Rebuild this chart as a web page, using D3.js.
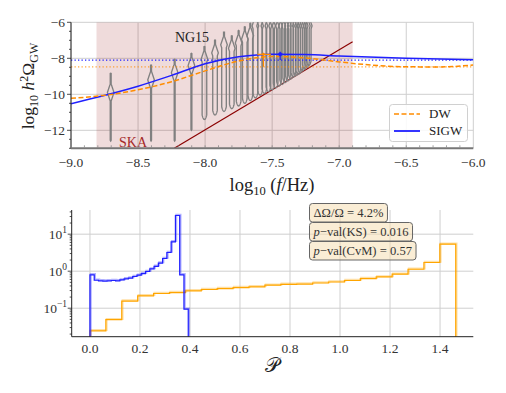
<!DOCTYPE html>
<html>
<head>
<meta charset="utf-8">
<script src="https://cdn.jsdelivr.net/npm/d3@7"></script>
<style>
  body { margin: 0; background: #fff; }
  svg { display: block; font-family: "Liberation Serif", "DejaVu Serif", serif; }
</style>
</head>
<body>
<svg id="chart" width="506" height="393"></svg>
<script>
// ---- top panel: spectra (log10 f in Hz, log10 h^2 Omega_GW) ----
const sigwLogF  = [-9.0, -8.76, -8.5, -8.25, -8.0, -7.75, -7.5, -7.25, -7.0, -6.5, -6.0];
const sigwOmega = [-10.52, -10.08, -9.55, -8.95, -8.3, -7.92, -7.77, -7.79, -7.87, -8.0, -8.08];
const dwLogF    = [-9.0, -8.75, -8.5, -8.25, -8.0, -7.75, -7.5, -7.25, -7.0, -6.75, -6.5, -6.25, -6.0];
const dwOmega   = [-10.22, -10.06, -9.75, -9.3, -8.7, -8.15, -7.9, -7.98, -8.2, -8.38, -8.47, -8.48, -8.37];
const sigwLevel = -8.1;   // dotted reference levels
const dwLevel   = -8.48;

// peak markers: [logf, omega, logf lo, logf hi, omega lo, omega hi]
const dwPeak   = [-7.565, -7.78, -7.61, -7.51, -8.47, -7.69];
const sigwPeak = [-7.44, -7.78, -7.46, -7.42, -8.09, -7.63];

// SKA sensitivity band and curve
const skaBand  = [-8.81, -6.9];
const skaLogF  = [-8.23, -6.9];
const skaOmega = [-13.0, -7.08];

// NG15 free-spectrum violins
const ng15LogF = [-8.704, -8.403, -8.227, -8.102, -8.005, -7.926, -7.859, -7.801, -7.750, -7.704,
                  -7.663, -7.625, -7.590, -7.558, -7.528, -7.500, -7.474, -7.449, -7.425, -7.403,
                  -7.382, -7.361, -7.342, -7.323, -7.306, -7.289, -7.272, -7.257, -7.241, -7.227];
const ng15Low  = [-12.6, -12.6, -12.6, -12.0, -11.4, -11.15, -10.95, -10.8, -10.65, -10.5,
                  -10.35, -10.2, -10.05, -9.95, -9.85, -9.75, -9.65, -9.55, -9.45, -9.35,
                  -9.25, -9.15, -9.05, -8.97, -8.9, -8.8, -8.7, -8.6, -8.5, -8.4];
const ng15High = [-8.83, -8.37, -8.05, -7.72, -7.35, -6.98, -6.55, -6.75, -6.45, -6.25,
                  -6.05, -5.5, -5.5, -5.5, -5.5, -5.5, -5.5, -5.5, -5.5, -5.5,
                  -5.5, -5.5, -5.5, -5.5, -5.5, -5.5, -5.5, -5.5, -5.5, -5.5];
const ng15Mode = [-9.9, -9.2, -8.8, -8.4, -8.05, -7.7, -7.25, -7.45, -7.15, -6.95,
                  -6.75, -6.2, -6.2, -6.2, -6.2, -6.2, -6.2, -6.2, -6.2, -6.2,
                  -6.2, -6.2, -6.2, -6.2, -6.2, -6.2, -6.2, -6.2, -6.2, -6.2];
const ng15Kind = ["spike", "spike", "spike", "spike"].concat(d3.range(26).map(() => "loop"));

const topXTicks = [-9.0, -8.5, -8.0, -7.5, -7.0, -6.5, -6.0];
const topYTicks = [-12, -10, -8, -6];

// ---- bottom panel: histograms of P ----
const sigwHistStart = 0.0, sigwHistWidth = 0.01709;
const sigwHist = [0.80, 0.57, 0.55, 0.54, 0.55, 0.56, 0.55, 0.58, 0.62, 0.65, 0.72, 0.78,
                  0.86, 0.98, 1.15, 1.35, 1.65, 2.2, 3.2, 6.2, 32, 0.8, 0.094];
const dwHistStart = 0.0, dwHistWidth = 0.0636;
const dwHist = [0.0244, 0.049, 0.155, 0.215, 0.25, 0.265, 0.294, 0.32, 0.34, 0.36, 0.377, 0.418,
                0.44, 0.45, 0.48, 0.51, 0.56, 0.63, 0.70, 0.83, 1.13, 1.72, 5.37];
const botXTicks = [0.0, 0.2, 0.4, 0.6, 0.8, 1.0, 1.2, 1.4];
const botYTicks = [0.1, 1, 10];
const statLines = ["dO", "ks", "cvm"];

const BLUE = "#1f1fff", ORANGE = "#ff8c00", HIST_ORANGE = "#ffa500", GRID = "#cfcfcf";

const svg = d3.select("#chart");

// ================= top panel =================
const x1 = d3.scaleLinear().domain([-9, -6]).range([71, 473.3]);
const y1 = d3.scaleLinear().domain([-13, -6]).range([148.3, 22.3]);

svg.append("defs").append("clipPath").attr("id", "clipTop")
  .append("rect").attr("x", x1(-9)).attr("y", y1(-6))
  .attr("width", x1(-6) - x1(-9)).attr("height", y1(-13) - y1(-6));

// grid
const gTop = svg.append("g");
gTop.selectAll(".vg").data(topXTicks).join("line")
  .attr("x1", d => x1(d)).attr("x2", d => x1(d))
  .attr("y1", y1(-6)).attr("y2", y1(-13))
  .attr("stroke", GRID).attr("stroke-width", 1);
gTop.selectAll(".hg").data(topYTicks).join("line")
  .attr("x1", x1(-9)).attr("x2", x1(-6))
  .attr("y1", d => y1(d)).attr("y2", d => y1(d))
  .attr("stroke", GRID).attr("stroke-width", 1);

const plot = svg.append("g").attr("clip-path", "url(#clipTop)");

// SKA band
plot.append("rect")
  .attr("x", x1(skaBand[0])).attr("y", y1(-6))
  .attr("width", x1(skaBand[1]) - x1(skaBand[0]))
  .attr("height", y1(-13) - y1(-6))
  .attr("fill", "#8b0000").attr("fill-opacity", 0.14);

// SKA curve
plot.append("line")
  .attr("x1", x1(skaLogF[0])).attr("y1", y1(skaOmega[0]))
  .attr("x2", x1(skaLogF[1])).attr("y2", y1(skaOmega[1]))
  .attr("stroke", "#8b0000").attr("stroke-width", 1.2);

// violins
function halfWidth(kind, v, lo, mode) {
  const bulb = 3.3 * Math.max(0, 1 - Math.abs(v - mode) / 0.55);
  let tail = 0.45;
  if (kind === "loop" && v < mode) tail = 2.3 * Math.sqrt(Math.min(1, (v - lo) / 0.25));
  else if (kind === "spike") tail = 0.45 * Math.sqrt(Math.min(1, (v - lo) / 0.05));
  return Math.max(tail, bulb);
}
const violins = ng15LogF.map((f, i) => ({ f, lo: ng15Low[i], hi: ng15High[i], mode: ng15Mode[i], kind: ng15Kind[i] }));
plot.append("g").selectAll("path").data(violins).join("path")
  .attr("d", d => {
    const vs = d3.range(d.lo, d.hi + 1e-9, 0.02);
    if (vs[vs.length - 1] < d.hi) vs.push(d.hi);
    const cx = x1(d.f);
    const right = vs.map(v => [cx + halfWidth(d.kind, v, d.lo, d.mode) * (v === d.hi ? 0 : 1), y1(v)]);
    const left = vs.slice().reverse().map(v => [cx - halfWidth(d.kind, v, d.lo, d.mode) * (v === d.hi ? 0 : 1), y1(v)]);
    return d3.line()(right.concat(left)) + "Z";
  })
  .attr("fill", "none").attr("stroke", "#808080").attr("stroke-width", 1.35);

// dotted levels
plot.append("line").attr("x1", x1(-9)).attr("x2", x1(-6))
  .attr("y1", y1(dwLevel)).attr("y2", y1(dwLevel))
  .attr("stroke", ORANGE).attr("stroke-width", 1.3).attr("stroke-dasharray", "1.3,2.2").attr("stroke-opacity", 0.75);
plot.append("line").attr("x1", x1(-9)).attr("x2", x1(-6))
  .attr("y1", y1(sigwLevel)).attr("y2", y1(sigwLevel))
  .attr("stroke", BLUE).attr("stroke-width", 1.3).attr("stroke-dasharray", "1.3,2.2");

// spectra
const line1 = d3.line().x(d => x1(d[0])).y(d => y1(d[1])).curve(d3.curveMonotoneX);
plot.append("path").datum(sigwLogF.map((f, i) => [f, sigwOmega[i]]))
  .attr("d", line1).attr("fill", "none").attr("stroke", BLUE).attr("stroke-width", 1.5);
plot.append("path").datum(dwLogF.map((f, i) => [f, dwOmega[i]]))
  .attr("d", line1).attr("fill", "none").attr("stroke", ORANGE).attr("stroke-width", 1.5)
  .attr("stroke-dasharray", "5,2.5");

// peak markers
function peakMarker(p, color, dot) {
  const g = plot.append("g").attr("stroke", color).attr("stroke-width", 1.2);
  g.append("line").attr("x1", x1(p[2])).attr("x2", x1(p[3])).attr("y1", y1(p[1])).attr("y2", y1(p[1]));
  g.append("line").attr("x1", x1(p[0])).attr("x2", x1(p[0])).attr("y1", y1(p[4])).attr("y2", y1(p[5]));
  g.append("circle").attr("cx", x1(p[0])).attr("cy", y1(p[1])).attr("r", dot).attr("fill", color);
}
peakMarker(dwPeak, ORANGE, 0.8);
peakMarker(sigwPeak, BLUE, 1.4);

// labels inside panel
svg.append("text").attr("x", 192).attr("y", 42).attr("text-anchor", "middle")
  .attr("font-size", 14).attr("fill", "#222").text("NG15");
svg.append("text").attr("x", 133).attr("y", 147).attr("text-anchor", "middle")
  .attr("font-size", 14).attr("fill", "#a52a2a").text("SKA");

// axes
svg.append("line").attr("x1", x1(-9)).attr("x2", x1(-9)).attr("y1", y1(-6)).attr("y2", y1(-13))
  .attr("stroke", "#222").attr("stroke-width", 1);
svg.append("line").attr("x1", x1(-9)).attr("x2", x1(-6)).attr("y1", y1(-13)).attr("y2", y1(-13))
  .attr("stroke", "#777").attr("stroke-width", 2);
svg.append("g").selectAll("line").data(d3.range(-9, -6.001, 0.1)).join("line")
  .attr("x1", d => x1(d)).attr("x2", d => x1(d))
  .attr("y1", y1(-13) - 1).attr("y2", y1(-13) - 3)
  .attr("stroke", "#888").attr("stroke-width", 0.8);
svg.append("g").selectAll("line").data(d3.range(-13, -5.99, 0.5)).join("line")
  .attr("x1", x1(-9)).attr("x2", d => x1(-9) - (Number.isInteger(d) && d % 2 === 0 ? 4 : 2))
  .attr("y1", d => y1(d)).attr("y2", d => y1(d))
  .attr("stroke", "#222").attr("stroke-width", 0.8);

const fmt1 = d3.format(".1f");
svg.append("g").selectAll("text").data(topXTicks).join("text")
  .attr("x", d => x1(d)).attr("y", 167).attr("text-anchor", "middle")
  .attr("font-size", 13.5).attr("fill", "#333").text(d => fmt1(d));
svg.append("g").selectAll("text").data(topYTicks).join("text")
  .attr("x", 65).attr("y", d => y1(d) + 4.5).attr("text-anchor", "end")
  .attr("font-size", 13.5).attr("fill", "#333").text(d => d3.format("d")(d));

// axis titles
const xt = svg.append("text").attr("x", 272).attr("y", 191).attr("text-anchor", "middle")
  .attr("font-size", 18.5).attr("fill", "#222");
xt.append("tspan").text("log");
xt.append("tspan").attr("font-size", 12.5).attr("dy", 4).text("10");
xt.append("tspan").attr("dy", -4).text(" (");
xt.append("tspan").attr("font-style", "italic").text("f");
xt.append("tspan").text("/Hz)");

const yt = svg.append("text").attr("transform", "translate(34,86) rotate(-90)")
  .attr("text-anchor", "middle").attr("font-size", 17.5).attr("fill", "#222");
yt.append("tspan").text("log");
yt.append("tspan").attr("font-size", 12).attr("dy", 4).text("10");
yt.append("tspan").attr("dy", -4).text(" ");
yt.append("tspan").attr("font-style", "italic").text("h");
yt.append("tspan").attr("font-size", 12).attr("dy", -6).text("2");
yt.append("tspan").attr("dy", 6).text("Ω");
yt.append("tspan").attr("font-size", 12).attr("dy", 4).text("GW");

// legend
const lg = svg.append("g");
lg.append("rect").attr("x", 389.5).attr("y", 104.5).attr("width", 78).attr("height", 37).attr("rx", 3)
  .attr("fill", "#fff").attr("fill-opacity", 0.85).attr("stroke", "#d0d0d0");
lg.append("line").attr("x1", 394).attr("x2", 420).attr("y1", 114).attr("y2", 114)
  .attr("stroke", ORANGE).attr("stroke-width", 1.5).attr("stroke-dasharray", "5,2.5");
lg.append("line").attr("x1", 394).attr("x2", 420).attr("y1", 131).attr("y2", 131)
  .attr("stroke", BLUE).attr("stroke-width", 1.8);
lg.append("text").attr("x", 429).attr("y", 118).attr("font-size", 13).attr("fill", "#222").text("DW");
lg.append("text").attr("x", 429).attr("y", 135).attr("font-size", 13).attr("fill", "#222").text("SIGW");

// ================= bottom panel =================
const x2 = d3.scaleLinear().domain([-0.073, 1.533]).range([71.7, 473.3]);
const y2 = d3.scaleLog().domain([0.017, 45]).range([336.7, 210]);

const gBot = svg.append("g");
gBot.selectAll(".vg").data(botXTicks).join("line")
  .attr("x1", d => x2(d)).attr("x2", d => x2(d)).attr("y1", 210).attr("y2", 336.7)
  .attr("stroke", GRID).attr("stroke-width", 1);
gBot.selectAll(".hg").data(botYTicks).join("line")
  .attr("x1", x2.range()[0]).attr("x2", x2.range()[1]).attr("y1", d => y2(d)).attr("y2", d => y2(d))
  .attr("stroke", GRID).attr("stroke-width", 1);

function histPath(start, width, vals) {
  const base = y2.range()[0];
  const pts = [[x2(start), base]];
  vals.forEach((v, i) => {
    pts.push([x2(start + i * width), y2(v)]);
    pts.push([x2(start + (i + 1) * width), y2(v)]);
  });
  pts.push([x2(start + vals.length * width), base]);
  return d3.line()(pts);
}
function drawHist(start, width, vals, color) {
  const d = histPath(start, width, vals);
  svg.append("path").attr("d", d).attr("transform", "translate(0.8,-0.8)")
    .attr("fill", "none").attr("stroke", color).attr("stroke-opacity", 0.35).attr("stroke-width", 2);
  svg.append("path").attr("d", d)
    .attr("fill", "none").attr("stroke", color).attr("stroke-width", 1.2);
}
drawHist(dwHistStart, dwHistWidth, dwHist, HIST_ORANGE);
drawHist(sigwHistStart, sigwHistWidth, sigwHist, BLUE);

// axes
svg.append("line").attr("x1", 71.7).attr("x2", 71.7).attr("y1", 210).attr("y2", 336.7)
  .attr("stroke", "#222").attr("stroke-width", 1);
svg.append("line").attr("x1", 71.7).attr("x2", 473.3).attr("y1", 336.7).attr("y2", 336.7)
  .attr("stroke", "#222").attr("stroke-width", 1);
const minorLog = [];
[0.01, 0.1, 1, 10].forEach(dec => d3.range(1, 10).forEach(m => {
  const v = dec * m;
  if (v >= 0.017 && v <= 45) minorLog.push(v);
}));
svg.append("g").selectAll("line").data(minorLog).join("line")
  .attr("x1", 71.7).attr("x2", d => 71.7 - (botYTicks.includes(d) ? 4 : 2))
  .attr("y1", d => y2(d)).attr("y2", d => y2(d))
  .attr("stroke", "#222").attr("stroke-width", 0.8);

svg.append("g").selectAll("text").data(botXTicks).join("text")
  .attr("x", d => x2(d)).attr("y", 353).attr("text-anchor", "middle")
  .attr("font-size", 13.5).attr("fill", "#333").text(d => fmt1(d));
const expo = { 0.1: "−1", 1: "0", 10: "1" };
svg.append("g").selectAll("text").data(botYTicks).join("text")
  .attr("x", 67).attr("y", d => y2(d) + 4.5).attr("text-anchor", "end")
  .attr("font-size", 13.5).attr("fill", "#333")
  .each(function (d) {
    const t = d3.select(this);
    t.append("tspan").text("10");
    t.append("tspan").attr("font-size", 9.5).attr("dy", -6).text(expo[d]);
  });

svg.append("text").attr("x", 272).attr("y", 372).attr("text-anchor", "middle")
  .attr("font-size", 20).attr("font-family", "DejaVu Sans, serif").attr("fill", "#222").text("𝒫");

// stats boxes
const boxTop = [203.5, 222.5, 241.5];
statLines.forEach((key, i) => {
  const g = svg.append("g");
  const rect = g.append("rect");
  const t = g.append("text").attr("x", 313.5).attr("y", boxTop[i] + 13.5)
    .attr("font-size", 12.6).attr("fill", "#333");
  if (key === "dO") {
    t.append("tspan").text("ΔΩ/Ω = 4.2%");
  } else {
    t.append("tspan").attr("font-style", "italic").text("p");
    t.append("tspan").text(key === "ks" ? "−val(KS) = 0.016" : "−val(CvM) = 0.57");
  }
  const w = t.node().getComputedTextLength();
  rect.attr("x", 309.5).attr("y", boxTop[i]).attr("width", w + 8).attr("height", 18.5).attr("rx", 3)
    .attr("fill", "#f5deb3").attr("fill-opacity", 0.55).attr("stroke", "#666").attr("stroke-width", 1);
});
</script>
</body>
</html>
